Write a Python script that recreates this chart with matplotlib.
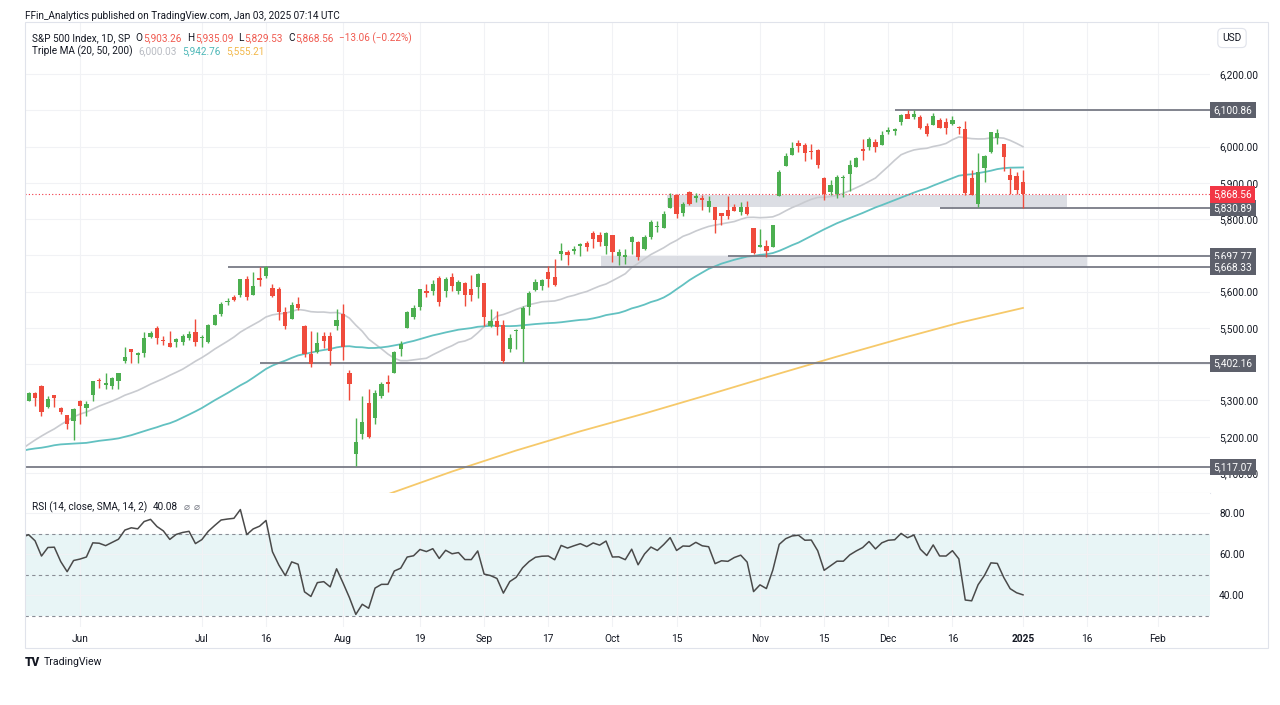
import numpy as np
import pandas as pd
import matplotlib
matplotlib.use("Agg")
import matplotlib.pyplot as plt
from matplotlib.patches import Rectangle

plt.rcParams['font.family'] = ['Roboto', 'DejaVu Sans']

# closes before the visible window (Mar 8 - May 20 2024), only to warm up MA/RSI
pre_closes = [5123.69, 5117.94, 5175.27, 5165.31, 5150.48, 5117.09, 5149.42, 5178.51,
              5224.62, 5241.53, 5234.18, 5218.19, 5203.58, 5248.49, 5254.35,
              5243.77, 5205.81, 5211.49, 5147.21, 5204.34, 5202.39, 5209.91, 5160.64,
              5199.06, 5123.41, 5061.82, 5051.41, 5022.21, 5011.12, 4967.23, 5010.60,
              5070.55, 5071.63, 5048.42, 5099.96, 5116.17, 5035.69,
              5018.39, 5064.20, 5127.79, 5180.74, 5187.70, 5187.67, 5214.08, 5222.68,
              5221.42, 5246.68, 5308.15, 5297.10, 5303.27, 5308.13]

# visible daily bars, May 21 2024 - Jan 2 2025
opens = [5298.69, 5319.28, 5340.26, 5281.45, 5315.91, 5278.73, 5259.77, 5243.21,
         5297.15, 5278.24, 5314.48, 5357.80, 5343.81, 5341.22, 5353.00, 5409.13, 5441.93, 5424.08,
         5431.11, 5476.15, 5499.99, 5466.77, 5459.58, 5460.73, 5460.71, 5473.59, 5488.48,
         5471.08, 5461.84, 5507.44, 5537.91, 5572.75, 5584.24, 5591.26, 5635.21, 5590.76, 5638.16,
         5644.09, 5610.07, 5608.56, 5543.37, 5525.56, 5565.30, 5505.84, 5428.70, 5433.67, 5476.55,
         5478.73, 5505.59,
         5537.84, 5376.63, 5151.14, 5206.42, 5293.13, 5252.57, 5312.70, 5351.38, 5376.98, 5442.78,
         5501.13, 5530.50, 5557.23, 5602.88, 5603.09, 5637.77, 5602.44, 5639.66, 5602.89, 5624.51,
         5607.30, 5612.74,
         5623.89, 5506.68, 5520.08, 5507.33, 5442.07, 5490.51, 5496.42, 5557.48, 5603.34, 5615.21,
         5655.51, 5641.68, 5702.63, 5709.61, 5711.90, 5727.22, 5733.57, 5762.22, 5755.36, 5726.52,
         5757.73, 5698.19, 5695.09, 5737.91, 5737.80, 5719.14, 5751.80, 5778.36, 5775.09, 5829.81,
         5866.74, 5816.58, 5875.62, 5859.43, 5857.82, 5832.70, 5834.50, 5817.80, 5826.75, 5833.93,
         5819.68, 5832.65, 5775.34,
         5723.22, 5725.15, 5722.43, 5864.89, 5947.21, 5976.76, 6008.86, 6003.60, 5985.75, 5989.68,
         5912.79, 5874.17, 5870.74, 5914.04, 5924.37, 5944.36, 5992.28, 6000.03, 6014.11, 6003.98,
         6040.11, 6042.97, 6069.39, 6089.03, 6081.38, 6083.01, 6057.59, 6060.15, 6074.29, 6068.17,
         6063.79, 6052.55, 6047.65, 5912.71, 5842.00, 5940.25, 5984.63, 6024.97, 6006.17, 5920.67,
         5919.74, 5903.26]
highs = [5324.32, 5323.18, 5341.88, 5311.65, 5315.91, 5282.27, 5260.21, 5280.33,
         5302.11, 5298.80, 5354.16, 5362.35, 5375.08, 5365.79, 5375.95, 5447.25, 5441.93, 5432.39,
         5488.50, 5490.38, 5505.53, 5478.31, 5490.66, 5472.88, 5483.14, 5490.81, 5523.64,
         5479.55, 5509.69, 5539.27, 5570.33, 5583.11, 5590.75, 5635.39, 5642.45, 5655.56, 5666.94,
         5669.67, 5622.49, 5614.05, 5557.50, 5570.36, 5585.34, 5508.04, 5491.59, 5488.32, 5487.74,
         5489.46, 5551.51,
         5566.16, 5383.89, 5250.89, 5312.34, 5330.64, 5328.03, 5351.35, 5371.20, 5436.50, 5463.22,
         5546.23, 5561.98, 5608.30, 5620.51, 5632.68, 5643.22, 5641.82, 5651.62, 5631.18, 5627.03,
         5646.95, 5651.37,
         5623.89, 5552.99, 5546.30, 5522.47, 5484.20, 5497.91, 5560.41, 5600.71, 5636.27, 5636.05,
         5670.81, 5689.75, 5733.57, 5715.14, 5725.36, 5735.32, 5741.03, 5767.37, 5763.78, 5765.14,
         5757.73, 5719.14, 5718.78, 5753.13, 5739.34, 5757.60, 5796.80, 5795.03, 5822.13, 5871.41,
         5870.36, 5846.52, 5878.46, 5872.17, 5866.92, 5863.04, 5834.85, 5817.80, 5862.82, 5842.92,
         5847.19, 5850.94, 5775.34,
         5772.52, 5741.43, 5783.44, 5936.14, 5983.84, 6012.45, 6017.31, 6009.92, 6008.19, 5993.88,
         5915.27, 5909.44, 5920.67, 5920.74, 5964.44, 5972.90, 6020.75, 6025.42, 6020.16, 6044.17,
         6053.58, 6052.07, 6089.84, 6099.97, 6099.94, 6088.51, 6065.40, 6092.59, 6079.68, 6078.58,
         6085.19, 6057.68, 6070.67, 5935.52, 5982.06, 5978.25, 6040.10, 6049.75, 6006.17, 5940.79,
         5929.74, 5935.09]
lows = [5297.87, 5286.01, 5256.93, 5278.39, 5280.89, 5262.70, 5222.10, 5191.68,
        5234.32, 5257.63, 5297.64, 5335.36, 5331.33, 5331.52, 5331.33, 5404.37, 5402.51, 5403.75,
        5420.40, 5471.32, 5455.56, 5452.03, 5447.59, 5446.56, 5451.87, 5467.54, 5451.12,
        5446.53, 5458.43, 5507.42, 5531.63, 5562.51, 5574.57, 5586.44, 5576.53, 5590.44, 5614.75,
        5639.02, 5584.81, 5522.81, 5497.04, 5524.96, 5550.90, 5419.98, 5390.95, 5430.70, 5444.44,
        5398.65, 5493.75,
        5410.42, 5302.03, 5119.26, 5193.56, 5195.54, 5233.85, 5306.60, 5324.37, 5376.98, 5421.79,
        5501.13, 5525.17, 5550.74, 5585.50, 5591.57, 5560.95, 5585.16, 5602.34, 5593.48, 5560.95,
        5574.57, 5581.79,
        5504.33, 5503.66, 5480.59, 5402.62, 5434.49, 5441.72, 5406.96, 5535.50, 5601.65, 5604.53,
        5614.05, 5615.08, 5686.42, 5674.49, 5704.22, 5698.99, 5712.06, 5721.01, 5727.34, 5703.53,
        5681.28, 5674.00, 5676.75, 5702.83, 5686.85, 5714.56, 5745.02, 5764.76, 5775.09, 5829.81,
        5804.48, 5808.34, 5840.25, 5846.11, 5824.81, 5821.17, 5762.41, 5784.92, 5799.98, 5823.08,
        5810.36, 5811.28, 5703.78,
        5723.22, 5696.51, 5722.10, 5864.89, 5947.21, 5976.76, 5986.69, 5960.08, 5965.91, 5942.28,
        5853.01, 5865.95, 5858.36, 5860.34, 5878.45, 5944.36, 5963.91, 5992.27, 5984.87, 6003.98,
        6035.33, 6033.39, 6061.06, 6079.98, 6076.23, 6048.63, 6029.89, 6060.15, 6051.25, 6035.77,
        6059.14, 6035.19, 5867.79, 5866.07, 5832.30, 5902.57, 5981.44, 6007.37, 5932.95, 5869.16,
        5868.86, 5829.53]
closes = [5321.41, 5307.01, 5267.84, 5304.72, 5306.04, 5266.95, 5235.48, 5277.51,
          5283.40, 5291.34, 5354.03, 5352.96, 5346.99, 5360.79, 5375.32, 5421.03, 5433.74, 5431.60,
          5473.23, 5487.03, 5473.17, 5464.62, 5447.87, 5469.30, 5477.90, 5482.87, 5460.48,
          5475.09, 5509.01, 5537.02, 5567.19, 5572.85, 5576.98, 5633.91, 5584.54, 5615.35, 5631.22,
          5667.20, 5588.27, 5544.59, 5505.00, 5564.41, 5555.74, 5427.13, 5399.22, 5459.10, 5463.54,
          5436.44, 5522.30,
          5446.68, 5346.56, 5186.33, 5240.03, 5199.50, 5319.31, 5344.16, 5344.39, 5434.43, 5455.21,
          5543.22, 5554.25, 5608.25, 5597.12, 5620.85, 5570.64, 5634.61, 5616.84, 5625.80, 5592.18,
          5591.96, 5648.40,
          5528.93, 5520.07, 5503.41, 5408.42, 5471.05, 5495.52, 5554.13, 5595.76, 5626.02, 5633.09,
          5634.58, 5618.26, 5713.64, 5702.55, 5718.57, 5732.93, 5722.26, 5745.37, 5738.17, 5762.48,
          5708.75, 5709.54, 5699.94, 5751.07, 5695.94, 5751.13, 5792.04, 5780.05, 5815.03, 5859.85,
          5815.26, 5842.47, 5841.47, 5864.67, 5853.98, 5851.20, 5797.42, 5809.86, 5808.12, 5823.52,
          5832.92, 5813.67, 5705.45,
          5728.80, 5712.69, 5782.76, 5929.04, 5973.10, 5995.54, 6001.35, 5983.99, 5985.38, 5949.17,
          5870.62, 5893.62, 5916.98, 5917.11, 5948.71, 5969.34, 5987.37, 6021.63, 5998.74, 6032.38,
          6047.15, 6049.88, 6086.49, 6075.11, 6090.27, 6052.85, 6034.91, 6084.19, 6051.25, 6051.09,
          6074.08, 6050.61, 5872.16, 5867.08, 5930.85, 5974.07, 6040.04, 6037.59, 5970.84, 5906.94,
          5881.63, 5868.56]

# 200 day MA (it is flat enough for a few points)
sma200_dates = ["2024-08-09", "2024-08-26", "2024-09-10", "2024-09-24", "2024-10-08", "2024-10-22",
                "2024-11-05", "2024-11-19", "2024-12-04", "2024-12-17", "2025-01-02"]
sma200_vals = [5035, 5104, 5162, 5215, 5264, 5316, 5369, 5421, 5471, 5514, 5555.21]

# author drawings: horizontal levels and grey zones
levels = [6100.86, 5830.89, 5697.77, 5668.33, 5402.16, 5117.07]
level_start = [127, 134, 101, 23, 28, -10]
zones = [(5835, 5868), (5668.33, 5697.77)]
zone_span = [(91.5, 153.9), (81.2, 157)]

tick_dates = ["2024-06-03", "2024-07-01", "2024-07-16", "2024-08-01", "2024-08-19", "2024-09-03",
              "2024-09-17", "2024-10-01", "2024-10-15", "2024-11-01", "2024-11-15", "2024-12-02",
              "2024-12-16", "2025-01-02", "2025-01-16", "2025-02-03"]
tick_labels = ["Jun", "Jul", "16", "Aug", "19", "Sep", "17", "Oct", "15", "Nov", "15", "Dec",
               "16", "2025", "16", "Feb"]

GREEN = '#4caf50'
RED = '#ef4b3c'
TXT = '#131722'

holidays = pd.to_datetime(["2024-03-29", "2024-05-27", "2024-06-19", "2024-07-04", "2024-09-02",
                           "2024-11-28", "2024-12-25", "2025-01-01", "2025-01-20"])
cal = pd.bdate_range("2024-03-08", "2025-02-28")
cal = cal[~cal.isin(holidays)]
jun3 = cal.get_loc(pd.Timestamp("2024-06-03"))
n_pre = len(pre_closes)


def xpos(d):
    return cal.get_loc(pd.Timestamp(d)) - jun3


all_close = pd.Series(pre_closes + closes)
pos_all = np.arange(len(all_close)) - jun3
pos = pos_all[n_pre:]
sma20 = all_close.rolling(20).mean()
sma50 = all_close.rolling(50).mean()
delta = all_close.diff()
up = delta.clip(lower=0).ewm(alpha=1 / 14, adjust=False).mean()
dn = (-delta.clip(upper=0)).ewm(alpha=1 / 14, adjust=False).mean()
rsi = 100 - 100 / (1 + up / dn)

W, H = 1280, 705
fig = plt.figure(figsize=(12.8, 7.05), dpi=100)


def fx(px):
    return px / W


def fy(py):
    return 1 - py / H


ax = fig.add_axes([fx(25), fy(493), fx(1210) - fx(25), fy(22) - fy(493)])
ax2 = fig.add_axes([fx(25), fy(627), fx(1210) - fx(25), fy(493) - fy(627)], sharex=ax)

xt = [xpos(d) for d in tick_dates]
ax.set_xlim(-8.57, 176.15)
ax.set_ylim(5044.7, 6344)
ax2.set_ylim(24.4, 89.76)

# candles
o = np.array(opens)
c = np.array(closes)
col = np.where(c >= o, GREEN, RED)
ax.vlines(pos, lows, highs, colors=col, lw=1, zorder=4)
body = np.maximum(np.abs(c - o), 2.5)
ax.bar(pos, body, bottom=np.minimum(o, c), width=0.66, color=col, zorder=5, linewidth=0)

# moving averages
ax.plot(pos_all, sma20, color='#c9cbd0', lw=1.2, zorder=3)
ax.plot(pos_all, sma50, color='#62c1c1', lw=1.3, zorder=3)
ax.plot([xpos(d) for d in sma200_dates], sma200_vals, color='#f6c96a', lw=1.3, zorder=3)

# drawings
x_right = ax.get_xlim()[1]
for (lo, hi), (x0, x1) in zip(zones, zone_span):
    ax.add_patch(Rectangle((x0, lo), x1 - x0, hi - lo, fc='#d1d4dc', ec='none', alpha=0.75, zorder=2))
for lv, x0 in zip(levels, level_start):
    ax.plot([x0, x_right], [lv, lv], color='#787b86', lw=1.3, zorder=3, solid_capstyle='butt')
ax.axhline(closes[-1], color='#f23645', lw=0.8, ls=(0, (1, 2)), zorder=3)

# price scale
yt = list(range(5100, 6300, 100))
ax.yaxis.tick_right()
ax.set_yticks(yt)
ax.set_yticklabels(["" if v in (5400, 5700, 6100) else f"{v:,.2f}" for v in yt])
ax.tick_params(axis='y', length=0, pad=6.5, labelsize=7.3, labelcolor=TXT)
ax.set_xticks(xt)
ax.tick_params(axis='x', length=0, labelbottom=False)
ax.grid(color='#f1f2f5', lw=0.8, zorder=0)
ax.set_axisbelow(True)
for s in ax.spines.values():
    s.set_visible(False)
ax.spines['bottom'].set_visible(True)
ax.spines['bottom'].set_color('#e0e3eb')

tr = ax.get_yaxis_transform()
for lv in levels:
    ax.text(1.003, lv, f"{lv:,.2f}", transform=tr, ha='left', va='center', fontsize=7.3,
            color='white', clip_on=False, zorder=10,
            bbox=dict(boxstyle='square,pad=0.32', fc='#5d606b', ec='none'))
ax.text(1.003, closes[-1], f"{closes[-1]:,.2f}", transform=tr, ha='left', va='center', fontsize=7.3,
        color='white', clip_on=False, zorder=11,
        bbox=dict(boxstyle='square,pad=0.32', fc='#f23645', ec='none'))

# RSI panel
ax2.axhspan(30, 70, color='#e8f5f6', lw=0, zorder=0)
for lv in (70, 50, 30):
    ax2.axhline(lv, color='#8a8d96', lw=0.8, ls=(0, (3, 3)), zorder=1)
ax2.plot(pos_all, rsi, color='#4a4a4a', lw=1.1, zorder=3)
ax2.yaxis.tick_right()
ax2.set_yticks([40, 60, 80])
ax2.set_yticklabels(["40.00", "60.00", "80.00"])
ax2.tick_params(axis='y', length=0, pad=6.5, labelsize=7.3, labelcolor=TXT)
ax2.set_xticks(xt)
ax2.set_xticklabels(tick_labels)
ax2.tick_params(axis='x', length=0, pad=5, labelsize=7.3, labelcolor=TXT)
for lab in ax2.get_xticklabels():
    if lab.get_text() == "2025":
        lab.set_fontweight('bold')
ax2.grid(color='#f1f2f5', lw=0.8, zorder=0)
ax2.set_axisbelow(True)
for s in ax2.spines.values():
    s.set_visible(False)

# outer frame
fig.patches.append(Rectangle((fx(25), fy(648)), fx(1268) - fx(25), fy(22) - fy(648),
                             transform=fig.transFigure, fill=False, ec='#e0e3eb', lw=0.8))


def text_row(x, y, parts, size=7.2):
    t = fig.text(fx(x), fy(y), parts[0][0], color=parts[0][1], fontsize=size, va='center')
    for s, colr, gap in parts[1:]:
        t = fig.text(0, 0, "", fontsize=size) if False else \
            plt.annotate(s, xy=(1, 0.5), xycoords=t, xytext=(gap, 0), textcoords='offset points',
                         color=colr, fontsize=size, va='center', annotation_clip=False)
    return t


hred = '#f05a50'
fig.text(fx(25), fy(16), "FFin_Analytics published on TradingView.com, Jan 03, 2025 07:14 UTC",
         fontsize=7.2, color=TXT, va='center')
text_row(32, 38, [("S&P 500 Index, 1D, SP", TXT), ("O", TXT, 4), ("5,903.26", hred, 0.3),
                  ("H", TXT, 4), ("5,935.09", hred, 0.3), ("L", TXT, 4), ("5,829.53", hred, 0.3),
                  ("C", TXT, 4), ("5,868.56", hred, 0.3), ("\u221213.06 (\u22120.22%)", hred, 4)])
text_row(32, 51, [("Triple MA (20, 50, 200)", TXT), ("6,000.03", '#b8bbc2', 4),
                  ("5,942.76", '#4fb8b8', 4), ("5,555.21", '#f2b84b', 4)])
text_row(32, 507, [("RSI (14, close, SMA, 14, 2)", TXT), ("40.08", TXT, 4), ("\u2300", '#787b86', 4),
                   ("\u2300", '#787b86', 3)])

fig.text(fx(1232), fy(38), "USD", fontsize=7.3, color=TXT, ha='center', va='center',
         bbox=dict(boxstyle='round,pad=0.45', fc='white', ec='#e0e3eb', lw=0.8))
fig.text(fx(25), fy(662), "TV", fontsize=8.5, fontweight='black', color=TXT, va='center')
fig.text(fx(44), fy(662), "TradingView", fontsize=7.6, color=TXT, va='center')

fig.savefig("out.png", dpi=100, facecolor='white')
